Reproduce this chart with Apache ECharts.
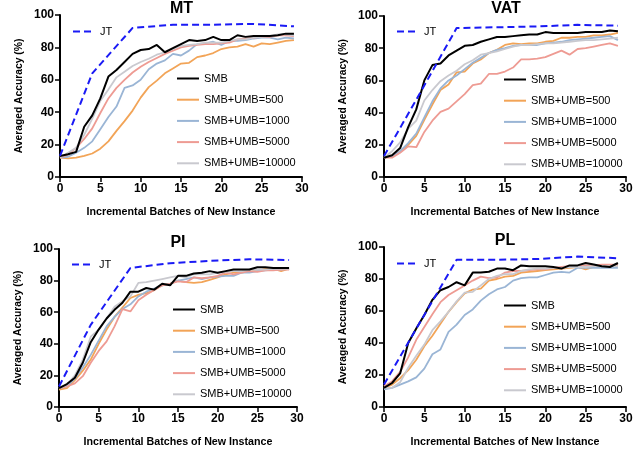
<!DOCTYPE html>
<html>
<head>
<meta charset="utf-8">
<script src="https://cdn.jsdelivr.net/npm/echarts@6/dist/echarts.min.js"></script>
<style>html,body{margin:0;padding:0;background:#fff}#c{width:640px;height:450px}</style>
</head>
<body>
<div id="c"></div>
<script>
const batches = [0,1,2,3,4,5,6,7,8,9,10,11,12,13,14,15,16,17,18,19,20,21,22,23,24,25,26,27,28,29];
const jtBatches = [0,4,9,14,19,24,29];
const panelTitles = ['MT','VAT','PI','PL'];
const seriesNames = ['SMB','SMB+UMB=500','SMB+UMB=1000','SMB+UMB=5000','SMB+UMB=10000'];

// MT
const mtJT    = [13,64,92,94,94,94.5,93];
const mtSMB   = [13,14,15.5,31,38,48.5,62,66,71,76,78.4,79,81.5,77,79.5,82,84.5,84,84.5,86.5,84.5,84.5,87.5,86.5,87,87,87,87.5,88.5,88.5];
const mt500   = [12,11.5,12,13,14.5,17.5,22,28.5,34.5,41,49,55.5,59.5,64,67,70,70.5,74,75,76.5,79,80,80.5,82,80.5,82.5,82,83,84,84.5];
const mt1000  = [12,12.5,15,18,22,29.5,37,43.5,55,56.5,60,66.5,70,72,76,75,78,82,82.5,83.5,81.5,84,84,84.5,85.5,86,86,85,86,85.5];
const mt5000  = [12,14,18,23.5,30,39.5,48.5,55,60,64.5,68,71,73.5,76,78,80,81,81.5,82,82,82.5,83,85,85.5,86,86.5,86.5,87.5,87.5,87];
const mt10000 = [12,15,18,26,36,47,54,61.5,65,68.5,71,73,75.5,77,79,81,81.5,82,83,83,83,84,85,85,86,86.5,87,88,88,87.5];

// VAT
const vatJT    = [13,48,92.5,93,93.5,94.5,94];
const vatSMB   = [12,13.5,18,31,42,60,69.5,70.5,75.5,78.5,81.5,82,84,85.5,87,87,87.5,88,88.5,88.5,90,89.5,89.5,89.5,89.5,90,90,90,91,90.5];
const vat500   = [12,13,16,20,25.5,35.5,45,54,57.5,65,65.5,70.5,73,77,79,82,83,82.5,83,83,84,84.5,86.5,86.5,87,87,88,88,88.5,89.5];
const vat1000  = [12,13,16,21,27,37,47,55,60,63,67,71,74,77,79,80,81.5,82,82,82,83,83.5,84,85,85.5,86,86.5,87,87.5,85];
const vat5000  = [12,12,15,19,18.5,28,35,40.5,42.5,47,51.5,57,58,64,64,65.5,68,73,73,73.5,74.5,76.5,78.5,76,79.5,80,81,82,83,81.5];
const vat10000 = [12,16,21.5,30,35,47.5,54,59.5,63,66,70,72.5,76,77,78,79.5,81,82,82,82.5,83,83,83.5,84,84.5,85,85,85.5,86,86.5];

// PI
const piJT    = [13,52,88,91,92.5,93.5,93];
const piSMB   = [12,14.5,18.5,28,41,49,56,61.5,66,73,73,75.3,74.3,78,77,83,83,84.5,85,86,85,86,87,87,87,88.5,88.5,88,88,88];
const pi500   = [11,12,17,23,30,40,49,57,63,69,71,72,74,77,78,80,79,78.5,79,80.5,82,84,85,85,86,86,87.5,87.5,86,87.5];
const pi1000  = [12,13,18,25,33,42,51,57,62,65,70,73,75,77,78,80,81,82,81,82,82.5,83,83,85,85,86,86.5,87,87,87.5];
const pi5000  = [12,13,15,19.5,28,35.5,41.5,51,62,60.5,67.5,71,74,77,78,79.5,79,82,81.5,82,83,85,84,85,86,85.5,86.5,86.5,87,87];
const pi10000 = [12,14,20,30,44.5,49,56,63.5,67,70,78.5,79,80,81,82,83,82,84,84,84,85,85.5,86,86,87,87,87,87.5,87.5,87.5];

// PL
const plJT    = [14,49,92,92,92.5,94,93];
const plSMB   = [12,15,21,40,49,57.5,67,73,75,78,76,84,84,84.5,86.5,86.5,85.5,88.5,88,88,88,87.5,86.5,88.5,88.5,90,89,88,87.5,90];
const pl500   = [12,14,18,23,29.5,38,44.5,52,59.5,65.5,71,73.4,74,79,80,81.5,82,84,84.5,85,85.5,86,86.5,87,87.5,86,87.5,87.5,88,88];
const pl1000  = [11,12,14,16,18.5,24,33,36,47,51.5,57.5,61,66.5,70.5,73.5,75,79,80.5,81,81,82.5,84,84.5,84,87,87,87,87,87,87];
const pl5000  = [13,16,22,31,42,50,58,65.5,70,73,76,79,81.5,80.5,81,84,85,85,85.5,86,86,87,87.5,88,88,88.5,88.5,89,89,89];
const pl10000 = [12,12,15.5,24.5,32,39,48,53.5,59.5,66,71.5,72,76,80,82,83,83,85,86,86.5,86.5,87,87,87.5,87.5,87.5,88,88,88,88];

const panelData = [
  {jt: mtJT,  s: [mtSMB, mt500, mt1000, mt5000, mt10000]},
  {jt: vatJT, s: [vatSMB, vat500, vat1000, vat5000, vat10000]},
  {jt: piJT,  s: [piSMB, pi500, pi1000, pi5000, pi10000]},
  {jt: plJT,  s: [plSMB, pl500, pl1000, pl5000, pl10000]}
];

const FONT = '"Liberation Sans", Arial, Helvetica, sans-serif';
const colors = ['#000000','#F2A457','#9AB5D5','#EE9B93','#C9C9CF'];
const jtColor = '#1A1AF5';

const grids = [
  {left: 60,  top: 15,  width: 242, height: 162},
  {left: 384, top: 16,  width: 242, height: 161},
  {left: 59,  top: 249, width: 238, height: 158},
  {left: 384, top: 247, width: 242, height: 160}
];
const titlePos = [[181.5,9],[506,9],[178,242.5],[505,240.5]];
const jtLegPos = [[73,26],[397,26],[72,259],[397,258]];
const mainLegPos = [[177,73],[504,74],[173,304],[504,300]];

const lineIcon = 'path://M0,0L22,0L22,2L0,2Z';
const dashIcon = 'path://M0,0L7,0L7,2L0,2Z M11,0L18,0L18,2L11,2Z';

const option = {
  animation: false,
  backgroundColor: '#fff',
  textStyle: {fontFamily: FONT},
  graphic: [], grid: [], xAxis: [], yAxis: [], legend: [], series: []
};

panelData.forEach((p, i) => {
  option.graphic.push({
    type: 'text', x: titlePos[i][0], y: titlePos[i][1], silent: true,
    style: {text: panelTitles[i], fontFamily: FONT, fontSize: 16, fontWeight: 'bold', fill: '#000',
            align: 'center', verticalAlign: 'middle'}
  });
  option.grid.push(Object.assign({outerBoundsMode: 'none', containLabel: false}, grids[i]));
  option.xAxis.push({
    type: 'value', gridIndex: i, min: 0, max: 30, interval: 5,
    name: 'Incremental Batches of New Instance', nameLocation: 'middle', nameGap: 30,
    nameTextStyle: {fontFamily: FONT, fontSize: 10.7, fontWeight: 'bold', color: '#000'},
    axisLine: {show: true, onZero: false, lineStyle: {color: '#000', width: 2}},
    axisTick: {show: true, inside: false, length: 5, lineStyle: {color: '#000', width: 1.5}},
    axisLabel: {fontFamily: FONT, fontSize: 12, fontWeight: 'bold', color: '#000', margin: 6},
    splitLine: {show: false}
  });
  option.yAxis.push({
    type: 'value', gridIndex: i, min: 0, max: 100, interval: 20,
    name: 'Averaged Accuracy (%)', nameLocation: 'middle', nameGap: 36, nameRotate: 90,
    nameTextStyle: {fontFamily: FONT, fontSize: 10.3, fontWeight: 'bold', color: '#000'},
    axisLine: {show: true, onZero: false, lineStyle: {color: '#000', width: 2}},
    axisTick: {show: true, inside: false, length: 5, lineStyle: {color: '#000', width: 1.5}},
    axisLabel: {fontFamily: FONT, fontSize: 12, fontWeight: 'bold', color: '#000', margin: 6},
    splitLine: {show: false}
  });
  option.legend.push({
    data: [{name: 'JT', icon: dashIcon}], orient: 'vertical', left: jtLegPos[i][0], top: jtLegPos[i][1], padding: 0,
    itemWidth: 18, itemHeight: 12, selectedMode: false, symbolKeepAspect: true,
    textStyle: {fontFamily: FONT, fontSize: 11, color: '#000', padding: [0,0,0,4]}
  });
  option.legend.push({
    data: seriesNames.map(n => ({name: n, icon: lineIcon})), orient: 'vertical',
    left: mainLegPos[i][0], top: mainLegPos[i][1], padding: 0,
    itemWidth: 22, itemHeight: 12, itemGap: 10.2, selectedMode: false, symbolKeepAspect: true,
    textStyle: {fontFamily: FONT, fontSize: 11, color: '#000'}
  });
  const order = [1,2,3,4,0];
  order.forEach(k => {
    option.series.push({
      type: 'line', name: seriesNames[k], xAxisIndex: i, yAxisIndex: i,
      data: batches.map((b, j) => [b, p.s[k][j]]),
      symbol: 'none', showSymbol: false, smooth: false,
      lineStyle: {color: colors[k], width: k === 0 ? 2 : 1.8},
      itemStyle: {color: colors[k]},
      z: k === 0 ? 4 : 3
    });
  });
  option.series.push({
    type: 'line', name: 'JT', xAxisIndex: i, yAxisIndex: i,
    data: jtBatches.map((b, j) => [b, p.jt[j]]),
    symbol: 'none', showSymbol: false,
    lineStyle: {color: jtColor, width: 2, type: [7, 4]},
    itemStyle: {color: jtColor},
    z: 5
  });
});

const chart = echarts.init(document.getElementById('c'), null, {renderer: 'canvas'});
chart.setOption(option);
</script>
</body>
</html>
